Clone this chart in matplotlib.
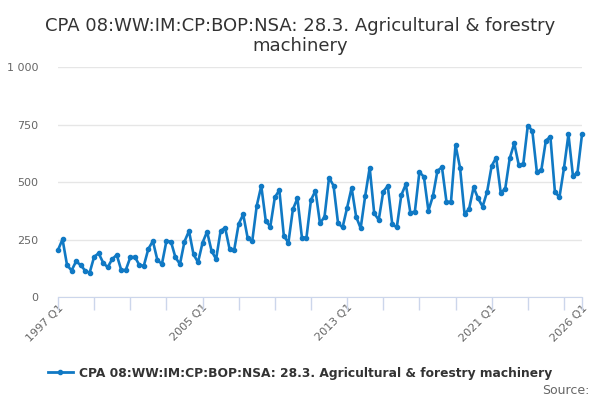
import matplotlib.pyplot as plt
from matplotlib.lines import Line2D

# quarterly values, 1997 Q1 .. 2026 Q1
values = [204, 251, 139, 115, 155, 139, 115, 105, 175, 190, 149, 129, 165, 183, 117, 117, 172, 175, 139, 136, 209,
          243, 161, 143, 243, 241, 172, 143, 241, 287, 185, 151, 236, 284, 200, 165, 288, 301, 207, 204, 318,
          359, 255, 243, 397, 483, 330, 306, 433, 465, 265, 236, 381, 429, 258, 258, 422, 462, 320, 349, 519,
          484, 320, 303, 388, 475, 349, 299, 439, 562, 364, 335, 458, 483, 316, 303, 443, 490, 367, 371, 543,
          523, 375, 439, 549, 564, 414, 414, 661, 562, 361, 383, 477, 429, 393, 458, 570, 606, 454, 470, 603,
          668, 574, 578, 745, 723, 545, 552, 680, 697, 458, 433, 559, 707, 526, 541, 707]
quarters = [f"{1997 + i // 4} Q{i % 4 + 1}" for i in range(len(values))]
label_quarters = ["1997 Q1", "2005 Q1", "2013 Q1", "2021 Q1", "2026 Q1"]
y_ticks = [0, 250, 500, 750, 1000]
y_labels = ["0", "250", "500", "750", "1 000"]
series_name = "CPA 08:WW:IM:CP:BOP:NSA: 28.3. Agricultural & forestry machinery"

blue = "#1079c4"
grey = "#666666"

fig = plt.figure(figsize=(6, 4), dpi=100)
ax = fig.add_axes([58 / 600, 1 - 297 / 400, 524 / 600, 230 / 400])

x = list(range(len(values)))
ax.plot(x, values, color=blue, lw=1.9, marker="o", ms=3, zorder=3, clip_on=False)

ax.set_xlim(0, len(values) - 1)
ax.set_ylim(0, 1000)
ax.set_yticks(y_ticks)
ax.set_yticklabels(y_labels, color=grey, fontsize=8)
ax.tick_params(axis="y", length=0, pad=14)
ax.grid(axis="y", color="#e6e6e6", lw=1)
ax.set_axisbelow(True)

label_pos = [quarters.index(q) for q in label_quarters]
ax.set_xticks(label_pos)
ax.set_xticklabels(label_quarters, rotation=45, ha="right", rotation_mode="anchor",
                   color=grey, fontsize=8)
minor = sorted(set(range(0, len(values), 8)) | set(label_pos))
ax.xaxis.remove_overlapping_locs = False
ax.set_xticks(minor, minor=True)
ax.tick_params(axis="x", which="minor", length=9, color="#ccd6eb", width=1)
ax.tick_params(axis="x", which="major", length=0, pad=4)

for s in ["left", "right", "top"]:
    ax.spines[s].set_visible(False)
ax.spines["bottom"].set_color("#ccd6eb")

fig.text(0.5, 0.957, "CPA 08:WW:IM:CP:BOP:NSA: 28.3. Agricultural & forestry\nmachinery",
         ha="center", va="top", fontsize=13, color="#333333", linespacing=1.15)

handle = Line2D([], [], color=blue, lw=2, marker="o", ms=3)
fig.legend([handle], [series_name], loc="center", bbox_to_anchor=(0.5, 0.067),
           frameon=False, prop={"weight": "bold", "size": 8.8}, labelcolor="#333333",
           handlelength=2, handletextpad=0.5)
fig.text(0.982, 0.025, "Source:", ha="right", va="center", fontsize=9, color=grey)

fig.savefig("out.png", dpi=100)
